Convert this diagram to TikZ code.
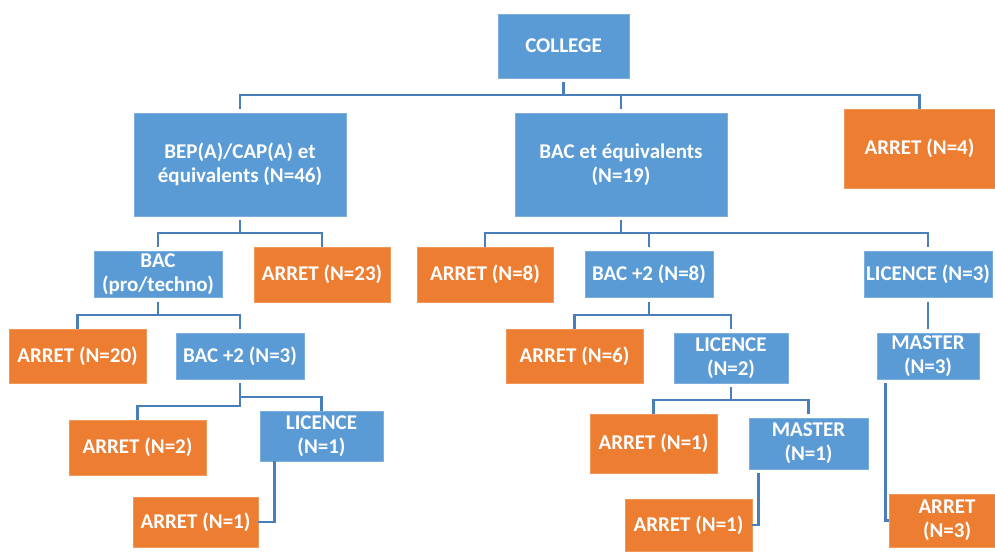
\documentclass[tikz,border=0pt]{standalone}
\usepackage{fontspec}
\setmainfont{Carlito}
\definecolor{boxblue}{RGB}{91,155,213}
\definecolor{boxorange}{RGB}{237,125,49}
\definecolor{connblue}{RGB}{74,126,187}
\begin{document}
\begin{tikzpicture}[x=1pt,y=-1pt,
  base/.style={inner sep=0pt, align=center, text=white,
    font=\fontsize{21}{24}\selectfont\bfseries, line width=0.8pt},
  bluebox/.style={base, fill=boxblue, draw=boxblue!80!white},
  orangebox/.style={base, fill=boxorange, draw=boxorange!80!white},
  conn/.style={draw=connblue, line width=2.6pt}]
\useasboundingbox (0,0) rectangle (995,553);
% nodes
\node[bluebox, minimum width=131, minimum height=64] (college) at (563.5,46) {COLLEGE};
\node[bluebox, minimum width=212, minimum height=103] (bep) at (240,164.5) {BEP(A)/CAP(A) et\\équivalents (N=46)};
\node[bluebox, minimum width=212, minimum height=103] (baceq) at (621,164.5) {BAC et équivalents\\(N=19)};
\node[orangebox, minimum width=151, minimum height=79] (a4) at (919.5,148.5) {ARRET (N=4)};
\node[bluebox, minimum width=128, minimum height=46] (bacpro) at (158,274) {BAC\\(pro/techno)};
\node[orangebox, minimum width=136, minimum height=55] (a23) at (322,274.5) {ARRET (N=23)};
\node[orangebox, minimum width=136, minimum height=55] (a8) at (485,274.5) {ARRET (N=8)};
\node[bluebox, minimum width=128, minimum height=46] (bac2b) at (649,274) {BAC +2 (N=8)};
\node[bluebox, minimum width=128, minimum height=46] (lic3) at (928,274) {LICENCE (N=3)};
\node[orangebox, minimum width=137, minimum height=54] (a20) at (77.5,356) {ARRET (N=20)};
\node[bluebox, minimum width=128, minimum height=46] (bac2a) at (240,356) {BAC +2 (N=3)};
\node[orangebox, minimum width=137, minimum height=54] (a6) at (574.5,356) {ARRET (N=6)};
\node[bluebox, minimum width=114, minimum height=50] (lic2) at (731,358) {LICENCE\\(N=2)};
\node[bluebox, minimum width=102, minimum height=46] (mas3) at (928,356) {MASTER\\(N=3)};
\node[orangebox, minimum width=137, minimum height=55] (a2) at (137.5,447.5) {ARRET (N=2)};
\node[bluebox, minimum width=123, minimum height=50] (lic1) at (321.5,436) {LICENCE\\(N=1)};
\node[orangebox, minimum width=127, minimum height=59] (a1m) at (653.5,443.5) {ARRET (N=1)};
\node[bluebox, minimum width=119, minimum height=51] (mas1) at (808.5,443.5) {MASTER\\(N=1)};
\node[orangebox, minimum width=125, minimum height=50] (a1l) at (195.5,522) {ARRET (N=1)};
\node[orangebox, minimum width=127, minimum height=52] (a1r) at (688.5,525) {ARRET (N=1)};
\node[orangebox, minimum width=106, minimum height=53] (a3) at (942,520.5) {\hspace*{10pt}ARRET\\\hspace*{10pt}(N=3)};
% bus levels
\coordinate (h1) at (0,95);
\coordinate (h2) at (0,233);
\coordinate (h3) at (0,315);
\coordinate (h4a) at (0,406);
\coordinate (h4b) at (0,397);
\coordinate (h5) at (0,400);
% connectors
\draw[conn] ([yshift=-4pt]college.south) -- (college.south |- h1);
\draw[conn] ([yshift=4pt]bep.north) |- (a4.north |- h1) -- (a4.north);
\draw[conn] (baceq.north |- h1) -- ([yshift=4pt]baceq.north);
\draw[conn] ([yshift=-4pt]bep.south) -- (bep.south |- h2);
\draw[conn] ([yshift=4pt]bacpro.north) |- (a23.north |- h2) -- (a23.north);
\draw[conn] ([yshift=-4pt]baceq.south) -- (baceq.south |- h2);
\draw[conn] (a8.north) |- (lic3.north |- h2) -- ([yshift=4pt]lic3.north);
\draw[conn] (bac2b.north |- h2) -- ([yshift=4pt]bac2b.north);
\draw[conn] ([yshift=-5pt]bacpro.south) -- (bacpro.south |- h3);
\draw[conn] (a20.north) |- (bac2a.north |- h3) -- ([yshift=4pt]bac2a.north);
\draw[conn] ([yshift=-4pt]bac2a.south) -- (bac2a.south |- h4a) -| (a2.north);
\draw[conn] (bac2a.south |- h4b) -| (lic1.north);
\draw[conn] ([xshift=15pt]lic1.south west) |- (a1l.east);
\draw[conn] ([yshift=-5pt]bac2b.south) -- (bac2b.south |- h3);
\draw[conn] (a6.north) |- (lic2.north |- h3) -- ([yshift=4pt]lic2.north);
\draw[conn] ([yshift=-5pt]lic3.south) -- ([yshift=4pt]mas3.north);
\draw[conn] ([yshift=-4pt]lic2.south) -- (lic2.south |- h5);
\draw[conn] (a1m.north) |- (mas1.north |- h5) -- ([yshift=4pt]mas1.north);
\draw[conn] ([xshift=10pt,yshift=-4pt]mas1.south west) |- (a1r.east);
\draw[conn] ([xshift=9pt,yshift=-4pt]mas3.south west) |- (a3.west);
\end{tikzpicture}
\end{document}
